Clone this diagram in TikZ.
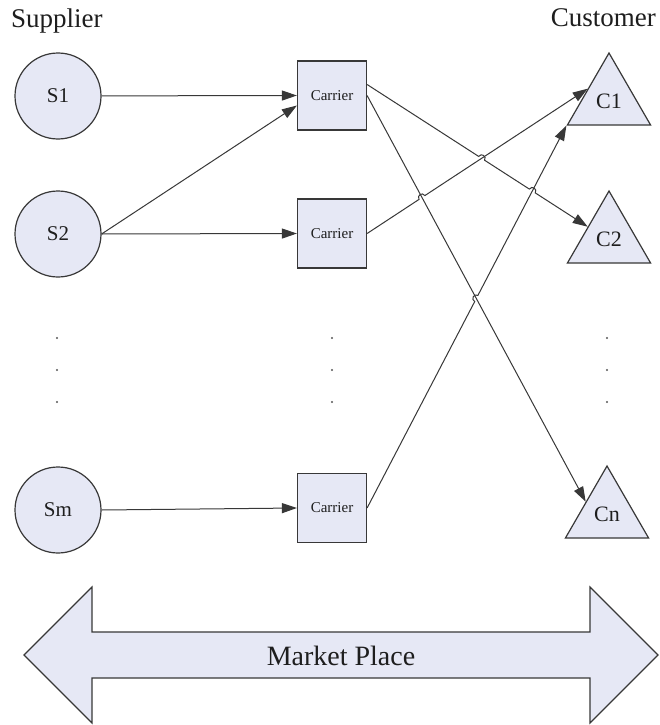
\documentclass[tikz,border=0pt]{standalone}
\usepackage{fontspec}
\setmainfont{Liberation Serif}
\usetikzlibrary{arrows.meta,calc,intersections,shapes.geometric}
\definecolor{shapefill}{HTML}{E6E8F5}
\definecolor{edgecol}{HTML}{383838}
\definecolor{txtcol}{HTML}{1E1E1E}
\begin{document}
\begin{tikzpicture}[x=1pt,y=-1pt,
  supplier/.style={circle,draw=edgecol,fill=shapefill,line width=1.2pt,minimum size=86pt,inner sep=0pt,font=\fontsize{21}{24}\selectfont,text=txtcol},
  carrier/.style={rectangle,draw=edgecol,fill=shapefill,line width=1.2pt,minimum size=69pt,inner sep=0pt,font=\fontsize{15}{17}\selectfont,text=txtcol},
  customer/.style={regular polygon,regular polygon sides=3,draw=edgecol,fill=shapefill,line width=1.2pt,minimum size=96pt,inner sep=0pt,font=\fontsize{22}{24}\selectfont,text=txtcol},
  heading/.style={font=\fontsize{27}{32}\selectfont,text=txtcol},
  conn/.style={draw=edgecol,line width=1pt,-{Triangle[length=15pt,width=10pt]}},
  hop/.style={bend left=90,looseness=1.7},
  vdot/.style={fill=edgecol!85}
]
\useasboundingbox (0,0) rectangle (659,725);
\fill[white] (0,0) rectangle (659,725);

% headings
\node[heading,anchor=base west,inner sep=0pt] (hsup) at (11,28) {Supplier};
\node[heading,anchor=base east,inner sep=0pt] (hcus) at (656,27) {Customer};

% suppliers
\node[supplier] (s1) at (58,96) {S1};
\node[supplier] (s2) at (58,234) {S2};
\node[supplier] (sm) at (58,510) {Sm};

% carriers
\node[carrier] (k1) at (332,95.5) {Carrier};
\node[carrier] (k2) at (332,233.5) {Carrier};
\node[carrier] (k3) at (332,508) {Carrier};

% customers
\node[customer] (cu1) at (609,101) {C1};
\node[customer] (cu2) at (609,239) {C2};
\node[customer] (cun) at (607,514) {Cn};

% vertical ellipsis dots
\foreach \xx in {57,332,607}{
  \foreach \yy in {338,370,402}{
    \fill[vdot] (\xx,\yy) circle (1.2);
  }
}

% supplier -> carrier
\draw[conn] (s1) -- (k1.west);
\draw[conn] (s2.east) -- ([yshift=-10pt]k1.west);
\draw[conn] (s2.east) -- (k2.west);
\draw[conn] (sm.east) -- (k3.west);

% carrier -> customer (with line hops)
\coordinate (a0) at ([yshift=11pt]k1.east);
\path[name path=pA] (a0) -- (cu2.side 1);
\path[name path=pB] (k1.east) -- (cun.side 1);
\path[name path=pC] (k2.east) -- (cu1.side 1);
\path[name path=pD] (k3.east) -- (cu1.corner 2);
\path[name intersections={of=pA and pC,by={xAC}}];
\path[name intersections={of=pA and pD,by={xAD}}];
\path[name intersections={of=pB and pC,by={xBC}}];
\path[name intersections={of=pB and pD,by={xBD}}];

\draw[conn] (a0) -- ($(xAC)!3.5pt!(a0)$) to[hop] ($(xAC)!3.5pt!(cu2.side 1)$)
  -- ($(xAD)!3.5pt!(a0)$) to[hop] ($(xAD)!3.5pt!(cu2.side 1)$) -- (cu2.side 1);
\draw[conn] (k1.east) -- (cun.side 1);
\draw[conn] (k2.east) -- ($(xBC)!3.5pt!(k2.east)$) to[hop] ($(xBC)!3.5pt!(cu1.side 1)$) -- (cu1.side 1);
\draw[conn] (k3.east) -- ($(xBD)!3.5pt!(k3.east)$) to[hop] ($(xBD)!3.5pt!(cu1.corner 2)$) -- (cu1.corner 2);

% market place double arrow
\draw[draw=edgecol,fill=shapefill,line width=1.2pt,line join=miter]
  (24,655) -- (92,587) -- (92,632) -- (590,632) -- (590,587) -- (658,655)
  -- (590,723) -- (590,678) -- (92,678) -- (92,723) -- cycle;
\node[font=\fontsize{28}{32}\selectfont,text=txtcol] (mp) at (341,656) {Market Place};
\end{tikzpicture}
\end{document}
